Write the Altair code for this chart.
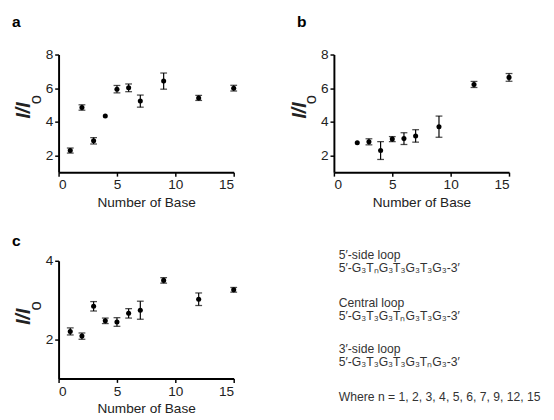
import altair as alt
import pandas as pd

# ---- data ----
a_n = [1, 2, 3, 4, 5, 6, 7, 9, 12, 15]
a_val = [2.29, 4.85, 2.87, 4.35, 5.94, 6.02, 5.23, 6.42, 5.42, 6.00]
a_err = [0.15, 0.16, 0.19, 0.0, 0.22, 0.23, 0.36, 0.48, 0.15, 0.17]

b_n = [2, 3, 4, 5, 6, 7, 9, 12, 15]
b_val = [2.75, 2.81, 2.29, 2.97, 3.00, 3.16, 3.71, 6.22, 6.64]
b_err = [0.0, 0.18, 0.53, 0.15, 0.35, 0.37, 0.63, 0.18, 0.23]

c_n = [1, 2, 3, 4, 5, 6, 7, 9, 12, 15]
c_val = [2.20, 2.08, 2.84, 2.47, 2.44, 2.66, 2.74, 3.50, 3.02, 3.26]
c_err = [0.09, 0.08, 0.12, 0.07, 0.11, 0.12, 0.23, 0.07, 0.16, 0.06]

x_ticks = [0, 5, 10, 15]
ab_yticks = [2, 4, 6, 8]
c_yticks = [2, 4]

legend_lines = [
    "5\u2032-side loop",
    "5\u2032-G\u2083T\u2099G\u2083T\u2083G\u2083T\u2083G\u2083-3\u2032",
    "Central loop",
    "5\u2032-G\u2083T\u2083G\u2083T\u2099G\u2083T\u2083G\u2083-3\u2032",
    "3\u2032-side loop",
    "5\u2032-G\u2083T\u2083G\u2083T\u2083G\u2083T\u2099G\u2083-3\u2032",
    "Where n = 1, 2, 3, 4, 5, 6, 7, 9, 12, 15",
]
legend_y = [-6, 7.5, 43, 56.5, 91, 104.5, 140.5]

FONT = "Liberation Sans"
W = 180


def txt(s, x, y, **kw):
    return alt.Chart(pd.DataFrame({"t": [s]})).mark_text(font=FONT, **kw).encode(
        text="t:N", x=alt.value(x), y=alt.value(y)
    )


def panel(ns, vals, errs, ymin, ymax, yticks, H, letter):
    df = pd.DataFrame({"n": ns, "v": vals, "e": errs})
    df["lo"] = df["v"] - df["e"]
    df["hi"] = df["v"] + df["e"]
    dfe = df[df["e"] > 0]
    xsc = alt.Scale(domain=[0, 15], nice=False, zero=False)
    ysc = alt.Scale(domain=[ymin, ymax], nice=False, zero=False)
    xax = alt.Axis(values=x_ticks, title="Number of Base", format="d")
    yax = alt.Axis(values=yticks, title=None, format="d")

    def X():
        return alt.X("n:Q", scale=xsc, axis=xax)

    pts = alt.Chart(df).mark_point(filled=True, color="black", size=27, opacity=1).encode(
        x=X(), y=alt.Y("v:Q", scale=ysc, axis=yax)
    )
    bars = alt.Chart(dfe).mark_rule(color="black", strokeWidth=1.2).encode(
        x=X(), y=alt.Y("lo:Q", scale=ysc, axis=yax), y2="hi:Q"
    )
    cap_lo = alt.Chart(dfe).mark_tick(orient="horizontal", color="black", thickness=1.3, size=7).encode(
        x=X(), y=alt.Y("lo:Q", scale=ysc, axis=yax)
    )
    cap_hi = alt.Chart(dfe).mark_tick(orient="horizontal", color="black", thickness=1.3, size=7).encode(
        x=X(), y=alt.Y("hi:Q", scale=ysc, axis=yax)
    )
    mid = H / 2 - 3
    t1 = txt("I/I", -35, mid, angle=270, align="center", baseline="middle",
             fontSize=20, fontWeight="bold", fontStyle="italic", color="#222")
    t2 = txt("o", -23, mid - 11, angle=270, align="center", baseline="middle",
             fontSize=17, color="#222")
    lab = txt(letter, -48 if letter != "b" else -38, -28 if letter != "c" else -15,
              align="left", baseline="alphabetic", fontSize=16, fontWeight="bold", color="black")
    return alt.layer(bars, cap_lo, cap_hi, pts, t1, t2, lab).properties(width=W, height=H)


pa = panel(a_n, a_val, a_err, 1, 8, ab_yticks, 121, "a")
pb = panel(b_n, b_val, b_err, 1, 8, ab_yticks, 121, "b")
pc = panel(c_n, c_val, c_err, 1, 4, c_yticks, 121, "c")

ldf = pd.DataFrame({"line": legend_lines, "ypos": legend_y})
legend = alt.Chart(ldf).mark_text(font=FONT, fontSize=12.5, align="left", baseline="middle", color="#333").encode(
    text="line:N",
    x=alt.value(5),
    y=alt.Y("ypos:Q", scale=alt.Scale(domain=[0, 121], range=[0, 121]), axis=None),
).properties(width=200, height=121)

chart = alt.concat(
    pa, pb, pc, legend, columns=2, spacing={"row": 91, "column": 103}, bounds="flush"
).properties(
    padding={"left": 4, "top": 1, "right": 5, "bottom": 5}
).configure_view(stroke=None).configure_axis(
    domainColor="black", domainWidth=2, tickColor="black", tickWidth=1.5, tickSize=4,
    labelFont=FONT, labelFontSize=14, labelColor="#222", labelPadding=2,
    titleFont=FONT, titleFontSize=14, titleFontWeight="normal", titleColor="#222",
    titlePadding=4, grid=False,
)

chart.save("out.html", embed_options={"renderer": "svg", "actions": False})
